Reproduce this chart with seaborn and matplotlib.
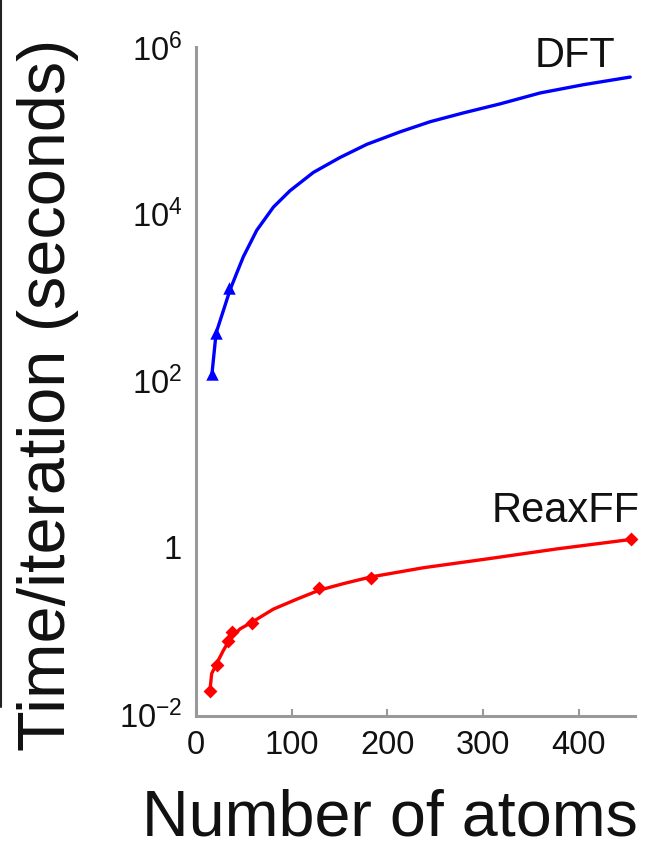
import matplotlib
matplotlib.use("Agg")
import matplotlib.pyplot as plt
import seaborn as sns
import pandas as pd
from matplotlib.lines import Line2D

# ---------------- data ----------------
dft_atoms = [16.7, 21, 34.5]
dft_time = [120, 370, 1280]
dft_curve_atoms = [16.7, 21, 35.6, 42.5, 49.5, 63.5, 80.9, 98.3, 122.7, 150.6, 178.6,
                   213.4, 244.8, 279.6, 318, 359.8, 405.1, 454]
dft_curve_time = [120, 370, 1222, 1930, 3050, 6330, 1.2e4, 1.89e4, 3.13e4, 4.73e4, 6.8e4,
                  9.6e4, 1.27e5, 1.62e5, 2.08e5, 2.81e5, 3.53e5, 4.36e5]

reax_atoms = [14.6, 21.6, 33.8, 38, 58.2, 128.7, 182.7, 454.7]
reax_time = [0.019, 0.039, 0.076, 0.097, 0.124, 0.32, 0.43, 1.27]
reax_curve_atoms = [14.6, 16.4, 21.6, 28.6, 35.6, 46.0, 58.2, 80.9, 105.3, 128.7, 154.1,
                    182.7, 237.8, 307.5, 377.3, 454.7]
reax_curve_time = [0.0193, 0.0305, 0.0402, 0.0578, 0.0796, 0.1047, 0.1256, 0.181, 0.238,
                   0.305, 0.366, 0.44, 0.568, 0.733, 0.955, 1.24]

x_ticks = [0, 100, 200, 300, 400]
y_ticks = [1e-2, 1, 1e2, 1e4, 1e6]
y_tick_labels = [r"$\mathregular{10^{-2}}$", "1", r"$\mathregular{10^{2}}$",
                 r"$\mathregular{10^{4}}$", r"$\mathregular{10^{6}}$"]

# ---------------- style ----------------
sns.set_theme(style="white")
plt.rcParams["font.family"] = ["Liberation Sans", "DejaVu Sans"]
plt.rcParams["mathtext.fontset"] = "custom"
plt.rcParams["mathtext.rm"] = "Liberation Sans"
plt.rcParams["mathtext.it"] = "Liberation Sans:italic"
plt.rcParams["mathtext.bf"] = "Liberation Sans:bold"

fig = plt.figure(figsize=(6.46, 8.48), dpi=100)
ax = fig.add_axes([196 / 646, 1 - 716 / 848, (635 - 196) / 646, (716 - 47) / 848])

dft_line = pd.DataFrame({"atoms": dft_curve_atoms, "time": dft_curve_time})
dft_pts = pd.DataFrame({"atoms": dft_atoms, "time": dft_time})
reax_line = pd.DataFrame({"atoms": reax_curve_atoms, "time": reax_curve_time})
reax_pts = pd.DataFrame({"atoms": reax_atoms, "time": reax_time})

sns.lineplot(data=dft_line, x="atoms", y="time", color="#0000FF", lw=2.4, ax=ax,
             sort=False, estimator=None)
sns.scatterplot(data=dft_pts, x="atoms", y="time", color="#0000FF", marker="^",
                s=80, linewidth=0, ax=ax)
sns.lineplot(data=reax_line, x="atoms", y="time", color="#FF0000", lw=2.4, ax=ax,
             sort=False, estimator=None)
sns.scatterplot(data=reax_pts, x="atoms", y="time", color="#FF0000", marker="D",
                s=50, linewidth=0, ax=ax, clip_on=False)

ax.set_yscale("log")
ax.set_xlim(0, 459)
ax.set_ylim(0.00946, 8.7e5)
ax.set_xticks(x_ticks)
ax.set_xticklabels([str(t) for t in x_ticks])
ax.set_yticks(y_ticks)
ax.set_yticklabels(y_tick_labels)
ax.minorticks_off()
ax.set_xlabel("")
ax.set_ylabel("")

for side in ["top", "right"]:
    ax.spines[side].set_visible(False)
for side in ["left", "bottom"]:
    ax.spines[side].set_color("#999999")
    ax.spines[side].set_linewidth(2.2)

ax.tick_params(axis="x", direction="in", length=5, width=1.5, color="#999999",
               labelsize=23.5, pad=10, labelcolor="#111111", bottom=True)
ax.tick_params(axis="y", length=0, labelsize=23.5, pad=10, labelcolor="#111111", left=True)

ax.text(438, 5.8e5, "DFT", fontsize=30, ha="right", va="baseline", color="#111111")
ax.text(464, 2.0, "ReaxFF", fontsize=30, ha="right", va="baseline", color="#111111",
        clip_on=False)

fig.text(390 / 646, 1 - 836 / 848, "Number of atoms", fontsize=46.5, ha="center",
         va="baseline", color="#111111")
fig.text(48 / 646, 1 - 395 / 848, "Time/iteration (seconds)", fontsize=48,
         rotation=90, ha="center", va="center", color="#111111")

fig.add_artist(Line2D([0.002, 0.002], [1.0, 1 - 707 / 848], color="#222222", lw=1.5))

fig.savefig("out.png", dpi=100)
